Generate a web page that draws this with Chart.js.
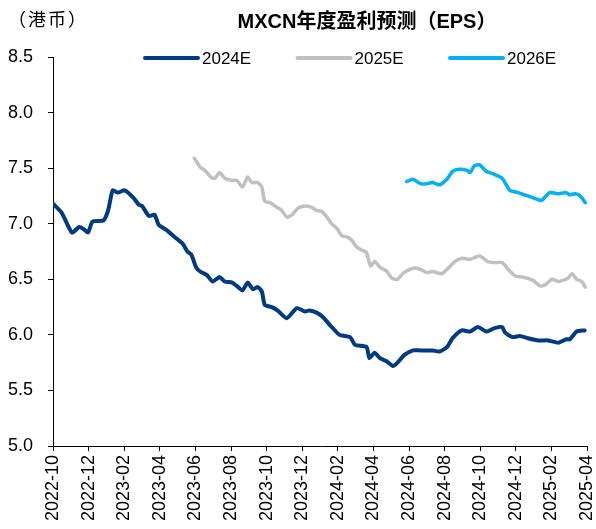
<!DOCTYPE html>
<html>
<head>
<meta charset="utf-8">
<script src="https://cdn.jsdelivr.net/npm/chart.js@4.4.1/dist/chart.umd.min.js"></script>
<style>
  html, body { margin: 0; padding: 0; background: #ffffff; }
  #wrap { width: 596px; height: 529px; position: relative; }
</style>
</head>
<body>
<div id="wrap"><canvas id="c" width="596" height="529"></canvas></div>
<script>
// ---- Data ----
const titleText = "MXCN年度盈利预测（EPS）";
const unitText = "（港币）";
const seriesNames = ["2024E", "2025E", "2026E"];
const seriesColors = ["#003A80", "#C0C0C0", "#00B0F0"];

const axisStart = "2022-10";   // first x tick
const axisMonths = 30;         // 2022-10 .. 2025-04
const tickStepMonths = 2;
const yTicks = [5.0, 5.5, 6.0, 6.5, 7.0, 7.5, 8.0, 8.5];

const dates24 = ["2022-10-01","2022-10-16","2022-11-03","2022-11-15","2022-11-23","2022-11-30","2022-12-08","2022-12-27",
  "2023-01-04","2023-01-12","2023-01-21","2023-02-02","2023-02-16","2023-02-24","2023-03-01","2023-03-13","2023-03-23",
  "2023-03-30","2023-04-13","2023-04-26","2023-05-10","2023-05-18","2023-05-25","2023-06-02","2023-06-09","2023-06-20",
  "2023-06-30","2023-07-12","2023-07-21","2023-08-03","2023-08-11","2023-08-21","2023-08-30","2023-09-08","2023-09-16",
  "2023-09-23","2023-09-28","2023-10-10","2023-10-20","2023-11-05","2023-11-22","2023-12-06","2023-12-14","2023-12-26",
  "2024-01-06","2024-01-18","2024-02-04","2024-02-21","2024-02-29","2024-03-20","2024-03-25","2024-04-03","2024-04-12",
  "2024-04-24","2024-05-04","2024-05-12","2024-05-24","2024-06-08","2024-06-20","2024-07-01","2024-07-11","2024-07-23",
  "2024-08-05","2024-08-15","2024-08-31","2024-09-14","2024-09-27","2024-10-12","2024-10-26","2024-11-08","2024-11-13",
  "2024-11-26","2024-12-08","2024-12-22","2025-01-09","2025-01-26","2025-02-12","2025-02-24","2025-03-02","2025-03-14","2025-03-28"];
const vals24 = [7.18,7.10,6.92,6.97,6.95,6.92,7.02,7.03,
  7.12,7.30,7.28,7.30,7.23,7.17,7.16,7.07,7.08,
  6.99,6.94,6.88,6.82,6.75,6.72,6.61,6.57,6.54,
  6.48,6.52,6.48,6.47,6.44,6.40,6.47,6.41,6.43,
  6.39,6.27,6.25,6.22,6.15,6.24,6.21,6.22,6.20,
  6.16,6.09,6.00,5.98,5.91,5.89,5.79,5.84,5.79,
  5.76,5.72,5.75,5.82,5.86,5.86,5.86,5.86,5.85,
  5.89,5.97,6.04,6.03,6.07,6.03,6.06,6.07,6.02,
  5.98,5.99,5.97,5.95,5.95,5.93,5.96,5.96,6.03,6.04];

const dates25 = ["2023-05-30","2023-06-09","2023-06-17","2023-06-29","2023-07-04","2023-07-12","2023-07-21","2023-08-03",
  "2023-08-11","2023-08-21","2023-08-30","2023-09-06","2023-09-16","2023-09-23","2023-09-28","2023-10-07","2023-10-18",
  "2023-10-27","2023-11-05","2023-11-14","2023-11-24","2023-12-06","2023-12-17","2023-12-26","2024-01-04","2024-01-13",
  "2024-01-21","2024-01-30","2024-02-08","2024-02-17","2024-02-24","2024-03-03","2024-03-13","2024-03-20","2024-03-27",
  "2024-04-03","2024-04-12","2024-04-24","2024-05-02","2024-05-12","2024-05-23","2024-06-08","2024-06-20","2024-07-01",
  "2024-07-11","2024-07-27","2024-08-07","2024-08-19","2024-08-31","2024-09-14","2024-09-30","2024-10-14","2024-10-26",
  "2024-11-08","2024-11-18","2024-11-30","2024-12-13","2024-12-31","2025-01-12","2025-01-21","2025-02-02","2025-02-12",
  "2025-02-27","2025-03-06","2025-03-14","2025-03-23","2025-03-29"];
const vals25 = [7.59,7.51,7.48,7.41,7.41,7.46,7.41,7.39,
  7.39,7.33,7.42,7.37,7.37,7.33,7.20,7.19,7.15,
  7.12,7.06,7.08,7.14,7.16,7.15,7.12,7.11,7.06,
  7.00,6.96,6.89,6.88,6.85,6.79,6.76,6.74,6.62,
  6.66,6.61,6.57,6.51,6.50,6.56,6.60,6.59,6.56,
  6.57,6.55,6.60,6.66,6.69,6.68,6.71,6.66,6.65,
  6.65,6.59,6.53,6.52,6.49,6.44,6.45,6.50,6.48,
  6.51,6.55,6.50,6.48,6.43];

const dates26 = ["2024-05-28","2024-06-08","2024-06-20","2024-07-01","2024-07-11","2024-07-23","2024-08-05","2024-08-15",
  "2024-08-27","2024-09-09","2024-09-14","2024-09-21","2024-09-30","2024-10-12","2024-10-23","2024-11-08","2024-11-21",
  "2024-12-05","2024-12-22","2025-01-07","2025-01-15","2025-01-29","2025-02-12","2025-02-24","2025-03-02","2025-03-11",
  "2025-03-20","2025-03-29"];
const vals26 = [7.38,7.40,7.36,7.36,7.37,7.35,7.40,7.47,
  7.49,7.48,7.46,7.52,7.53,7.47,7.45,7.41,7.30,
  7.28,7.25,7.22,7.21,7.28,7.27,7.28,7.26,7.27,
  7.25,7.19];

// ---- Helpers ----
const [startY, startM] = axisStart.split("-").map(Number);
function monthIndex(dateStr) {
  const [y, m, d] = dateStr.split("-").map(Number);
  const dim = new Date(y, m, 0).getDate();
  return (y - startY) * 12 + (m - startM) + (d - 1) / dim;
}
function monthLabel(idx) {
  const total = startY * 12 + (startM - 1) + Math.round(idx);
  const y = Math.floor(total / 12);
  const m = total % 12 + 1;
  return y + "-" + String(m).padStart(2, "0");
}
function toPoints(dates, vals) {
  return dates.map((d, i) => ({ x: monthIndex(d), y: vals[i] }));
}

const seriesData = [toPoints(dates24, vals24), toPoints(dates25, vals25), toPoints(dates26, vals26)];
const lineWidths = [4, 3.5, 3.5];

// ---- Plugins: title, unit label, legend ----
const decorPlugin = {
  id: "decor",
  afterDraw(chart) {
    const ctx = chart.ctx;
    ctx.save();
    ctx.fillStyle = "#000";
    ctx.textBaseline = "middle";
    // unit label
    ctx.font = "18px 'Noto Sans CJK SC', 'Liberation Sans', sans-serif";
    ctx.textAlign = "left";
    try { ctx.letterSpacing = "2px"; } catch (e) {}
    ctx.fillText(unitText, 8, 19);
    try { ctx.letterSpacing = "0px"; } catch (e) {}
    // title
    ctx.font = "bold 20px 'Liberation Sans', 'Noto Sans CJK SC', sans-serif";
    ctx.textAlign = "center";
    ctx.fillText(titleText, 367, 22);
    // legend
    const items = chart.data.datasets;
    const x0 = 145, step = 152.5, ly = 58, lineLen = 53;
    ctx.font = "17px 'Liberation Sans', Arial, sans-serif";
    ctx.textAlign = "left";
    items.forEach((ds, i) => {
      const x = x0 + i * step;
      ctx.strokeStyle = ds.borderColor;
      ctx.lineWidth = 4;
      ctx.lineCap = "round";
      ctx.beginPath();
      ctx.moveTo(x, ly);
      ctx.lineTo(x + lineLen, ly);
      ctx.stroke();
      ctx.fillStyle = "#000";
      ctx.fillText(ds.label, x + lineLen + 4, ly + 1);
    });
    ctx.restore();
  }
};

new Chart(document.getElementById("c"), {
  type: "line",
  data: {
    datasets: seriesNames.map((name, i) => ({
      label: name,
      data: seriesData[i],
      borderColor: seriesColors[i],
      backgroundColor: seriesColors[i],
      borderWidth: lineWidths[i],
      pointRadius: 0,
      fill: false,
      tension: 0.2,
      borderCapStyle: "round",
      borderJoinStyle: "round"
    }))
  },
  options: {
    responsive: false,
    devicePixelRatio: 1,
    animation: false,
    layout: { padding: { left: 8, right: 9, top: 57, bottom: 0 } },
    plugins: {
      legend: { display: false },
      title: { display: false },
      tooltip: { enabled: false }
    },
    scales: {
      x: {
        type: "linear",
        min: 0,
        max: axisMonths,
        afterFit: (s) => { s.paddingLeft = 0; s.paddingRight = 0; s.height = 83; },
        grid: { drawOnChartArea: false, drawTicks: true, tickLength: 5, color: "#000" },
        border: { display: true, color: "#000", width: 1 },
        ticks: {
          stepSize: tickStepMonths,
          autoSkip: false,
          minRotation: 90,
          maxRotation: 90,
          padding: 4,
          color: "#000",
          font: { family: "'Liberation Sans', Arial, sans-serif", size: 18 },
          callback: (v) => monthLabel(v)
        }
      },
      y: {
        min: yTicks[0],
        max: yTicks[yTicks.length - 1],
        afterBuildTicks: (scale) => { scale.ticks = yTicks.map(v => ({ value: v })); },
        afterFit: (s) => { s.paddingTop = 0; s.paddingBottom = 0; s.width = 45; },
        grid: { drawOnChartArea: false, drawTicks: true, tickLength: 5, color: "#000" },
        border: { display: true, color: "#000", width: 1 },
        ticks: {
          padding: 15,
          color: "#000",
          font: { family: "'Liberation Sans', Arial, sans-serif", size: 18 },
          callback: (v) => Number(v).toFixed(1)
        }
      }
    }
  },
  plugins: [decorPlugin]
});
</script>
</body>
</html>
